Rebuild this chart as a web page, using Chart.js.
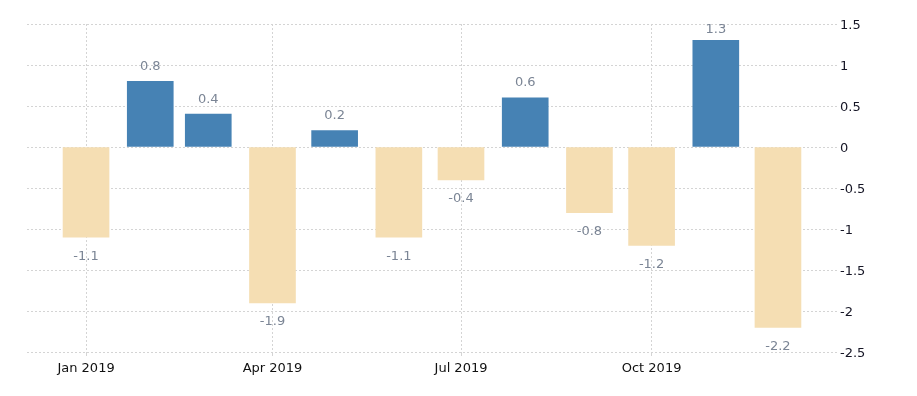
<!DOCTYPE html>
<html>
<head>
<meta charset="utf-8">
<script src="https://cdn.jsdelivr.net/npm/chart.js@4"></script>
<style>
html,body{margin:0;padding:0;background:#fff;}
#wrap{width:917px;height:396px;position:relative;}
</style>
</head>
<body>
<div id="wrap"><canvas id="c" width="917" height="396"></canvas></div>
<script>
const months = ['Jan 2019','Feb 2019','Mar 2019','Apr 2019','May 2019','Jun 2019','Jul 2019','Aug 2019','Sep 2019','Oct 2019','Nov 2019','Dec 2019'];
const values = [-1.1, 0.8, 0.4, -1.9, 0.2, -1.1, -0.4, 0.6, -0.8, -1.2, 1.3, -2.2];
const tickMonths = ['Jan 2019', 'Apr 2019', 'Jul 2019', 'Oct 2019'];
const yTicks = [-2.5, -2, -1.5, -1, -0.5, 0, 0.5, 1, 1.5];

const DAY = 86400000;
const t0 = Date.UTC(2019, 0, 1);
// x position of each bar: days since 1 Jan 2019 (time-based spacing)
const dayOf = (label) => (Date.UTC(2019, months.indexOf(label), 1) - t0) / DAY;

const POS = '#4682b4', NEG = '#f5deb3';
const FONT = "'DejaVu Sans', sans-serif";

const labelPlugin = {
  id: 'valueLabels',
  afterDatasetsDraw(chart) {
    const ctx = chart.ctx;
    const meta = chart.getDatasetMeta(0);
    const top = chart.chartArea.top;
    ctx.save();
    ctx.font = "13px " + FONT;
    ctx.fillStyle = '#7b8595';
    ctx.textAlign = 'center';
    ctx.textBaseline = 'middle';
    meta.data.forEach((el, i) => {
      const v = values[i];
      let y = v >= 0 ? el.y - 15 : el.y + 19;
      if (y < top + 6) y = top + 6;
      ctx.fillText(String(v), el.x, y);
    });
    ctx.restore();
  }
};

new Chart(document.getElementById('c'), {
  type: 'bar',
  data: {
    datasets: [{
      data: values.map((v, i) => ({x: dayOf(months[i]), y: v})),
      backgroundColor: values.map(v => v >= 0 ? POS : NEG),
      borderWidth: 0,
      barThickness: 46
    }]
  },
  options: {
    responsive: false,
    animation: false,
    events: [],
    layout: {padding: {left: 27, top: 24, right: 0, bottom: 0}},
    plugins: {legend: {display: false}, tooltip: {enabled: false}},
    scales: {
      x: {
        type: 'linear',
        offset: false,
        min: -28.5,
        max: 362.5,
        afterBuildTicks(s) { s.ticks = tickMonths.map(m => ({value: dayOf(m), label: m})); },
        afterFit(s) { s.height = 44; },
        ticks: {
          autoSkip: false,
          maxRotation: 0,
          padding: 5,
          color: '#111',
          font: {family: FONT, size: 13},
          callback: (v) => { const i = months.findIndex(m => dayOf(m) === v); return i >= 0 ? months[i] : ''; }
        },
        grid: {offset: false, color: '#d4d4d4', drawTicks: true, tickLength: 4, tickColor: '#d4d4d4'},
        border: {display: false, dash: [2, 2]}
      },
      y: {
        position: 'right',
        min: -2.5,
        max: 1.5,
        afterBuildTicks(s) { s.ticks = yTicks.map(v => ({value: v})); },
        afterFit(s) { s.width = 80; },
        ticks: {
          padding: 3,
          labelOffset: 2,
          color: '#151525',
          font: {family: FONT, size: 13},
          callback: (v) => String(v)
        },
        grid: {color: '#d4d4d4', drawTicks: false},
        border: {display: false, dash: [2, 2]}
      }
    }
  },
  plugins: [labelPlugin]
});
</script>
</body>
</html>
